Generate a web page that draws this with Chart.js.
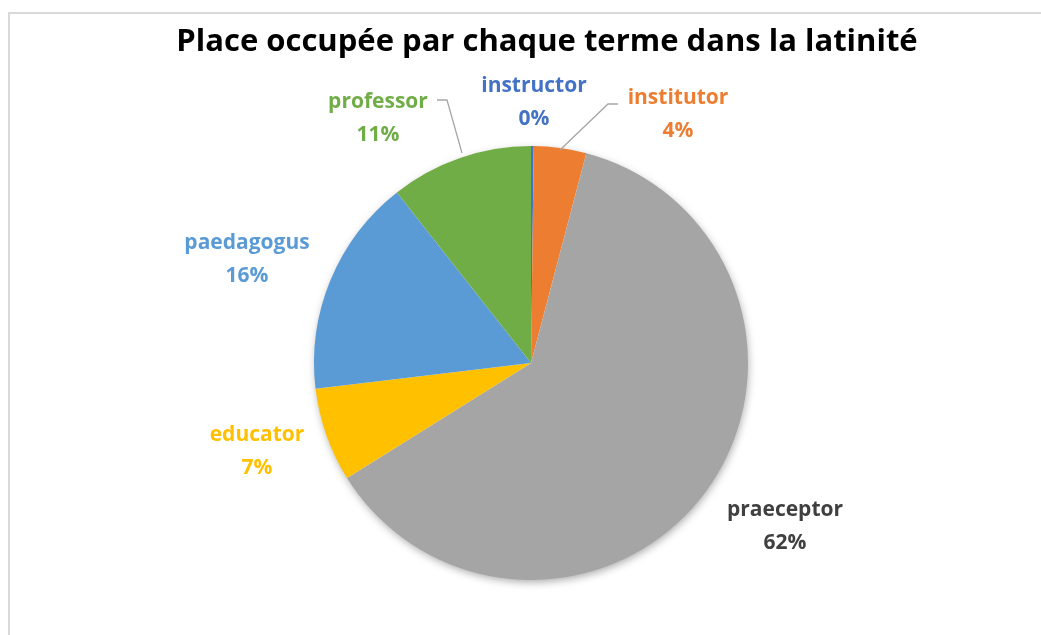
<!DOCTYPE html>
<html>
<head>
<meta charset="utf-8">
<script src="https://cdn.jsdelivr.net/npm/chart.js@4"></script>
<style>
  html, body { margin: 0; padding: 0; background: #fff; overflow: hidden; }
  #frame { position: absolute; left: 8px; top: 12px; width: 1100px; height: 700px; border: 2px solid #d9d9d9; }
  #wrap { position: absolute; left: 0; top: 0; width: 1041px; height: 635px; }
</style>
</head>
<body>
<div id="frame"></div>
<div id="wrap"><canvas id="chart"></canvas></div>
<script>
// valeurs (en %)
const title = 'Place occupée par chaque terme dans la latinité';
const labels = ['instructor', 'institutor', 'praeceptor', 'educator', 'paedagogus', 'professor'];
const values = [0.2, 3.9, 62.0, 7.0, 16.3, 10.6];
const colors = ['#4472C4', '#ED7D31', '#A5A5A5', '#FFC000', '#5B9BD5', '#70AD47'];
const labelColors = ['#4472C4', '#ED7D31', '#404040', '#FFC000', '#5B9BD5', '#70AD47'];
// position des étiquettes (centre du texte) et lignes de rappel
const labelPos = [[534, 86], [678, 98], [785, 510], [257, 435], [247, 243], [378, 102]];
const leaders = [null, [[618, 104], [608, 104], [560, 150]], null, null, null, [[437, 100], [447, 100], [462, 153]]];

const total = values.reduce((a, b) => a + b, 0);

const shadowPlugin = {
  id: 'pieShadow',
  beforeDatasetsDraw(chart) {
    const arc = chart.getDatasetMeta(0).data[0];
    const ctx = chart.ctx;
    ctx.save();
    ctx.shadowColor = 'rgba(0,0,0,0.35)';
    ctx.shadowBlur = 9;
    ctx.shadowOffsetX = 1;
    ctx.shadowOffsetY = 3;
    ctx.fillStyle = '#fff';
    ctx.beginPath();
    ctx.arc(arc.x, arc.y, arc.outerRadius - 1, 0, Math.PI * 2);
    ctx.fill();
    ctx.restore();
  }
};

const labelPlugin = {
  id: 'sliceLabels',
  afterDatasetsDraw(chart) {
    const ctx = chart.ctx;
    ctx.save();
    // titre
    ctx.font = 'bold 31px "Open Sans"';
    ctx.textAlign = 'center';
    ctx.textBaseline = 'middle';
    ctx.fillStyle = '#000';
    ctx.fillText(title, 547, 42);

    ctx.strokeStyle = '#a6a6a6';
    ctx.lineWidth = 1.3;
    leaders.forEach(l => {
      if (!l) return;
      ctx.beginPath();
      ctx.moveTo(l[0][0], l[0][1]);
      for (let i = 1; i < l.length; i++) ctx.lineTo(l[i][0], l[i][1]);
      ctx.stroke();
    });
    ctx.font = 'bold 21px "Open Sans"';
    labels.forEach((name, i) => {
      const pct = Math.round(values[i] / total * 100) + '%';
      ctx.fillStyle = labelColors[i];
      ctx.fillText(name, labelPos[i][0], labelPos[i][1]);
      ctx.fillText(pct, labelPos[i][0], labelPos[i][1] + 33);
    });
    ctx.restore();
  }
};

new Chart(document.getElementById('chart'), {
  type: 'pie',
  data: {
    labels: labels,
    datasets: [{
      data: values,
      backgroundColor: colors,
      borderWidth: 0
    }]
  },
  options: {
    responsive: true,
    maintainAspectRatio: false,
    animation: false,
    layout: { padding: { top: 146, bottom: 55, left: 21, right: 0 } },
    plugins: {
      legend: { display: false },
      tooltip: { enabled: false },
      title: { display: false }
    }
  },
  plugins: [shadowPlugin, labelPlugin]
});
</script>
</body>
</html>
